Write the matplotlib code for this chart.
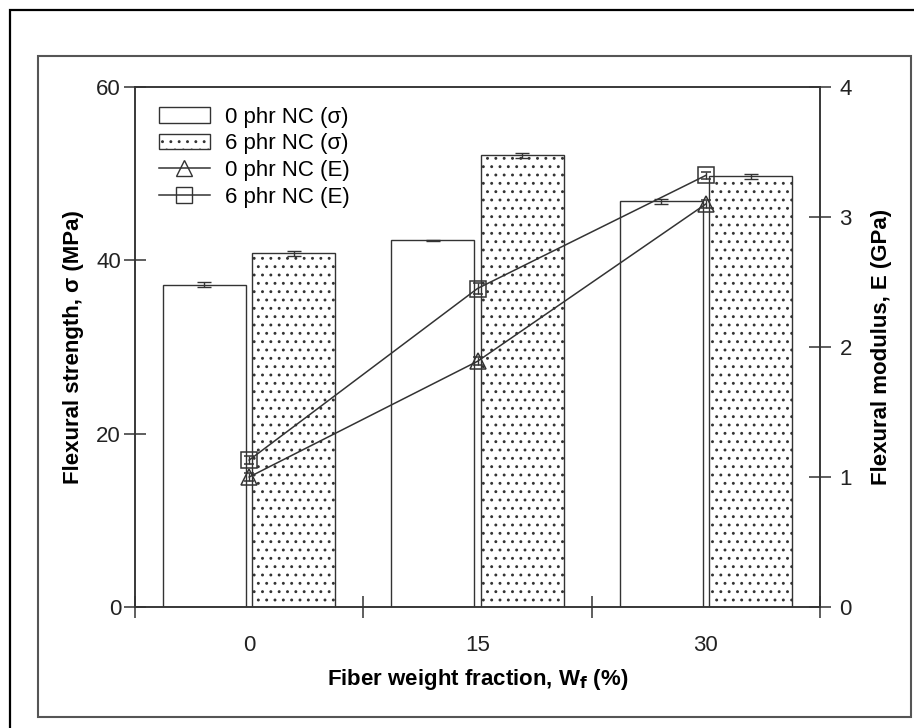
import matplotlib
matplotlib.use('Agg')
import matplotlib.pyplot as plt
import matplotlib.patches as mpatches
from matplotlib.lines import Line2D
import numpy as np

plt.rcParams['font.family'] = ['Liberation Sans', 'DejaVu Sans']
plt.rcParams['hatch.linewidth'] = 0.9
plt.rcParams['hatch.color'] = '#444444'

# data
fractions = ['0', '15', '30']
sigma_0phr = [37.2, 42.3, 46.8]
sigma_0phr_err = [0.3, 0.1, 0.3]
sigma_6phr = [40.8, 52.1, 49.7]
sigma_6phr_err = [0.3, 0.25, 0.3]
modulus_0phr = [1.00, 1.89, 3.10]
modulus_0phr_err = [0.03, 0.03, 0.03]
modulus_6phr = [1.13, 2.45, 3.32]
modulus_6phr_err = [0.03, 0.04, 0.03]

W, H = 914, 728
dark = '#333333'
fs = 16


def fx(x):
    return x / W


def fy(y):
    return 1 - y / H


fig = plt.figure(figsize=(W / 100, H / 100), dpi=100)

# page frames
fig.patches.append(mpatches.Rectangle((fx(10), fy(740)), fx(930) - fx(10), fy(10) - fy(740),
                                      transform=fig.transFigure, fill=False,
                                      edgecolor='black', linewidth=1.6))
fig.patches.append(mpatches.Rectangle((fx(38), fy(717)), fx(911) - fx(38), fy(56) - fy(717),
                                      transform=fig.transFigure, fill=False,
                                      edgecolor='#555555', linewidth=1.5))

ax = fig.add_axes([fx(135), fy(607), fx(820) - fx(135), fy(87) - fy(607)])
ax2 = ax.twinx()

x = np.arange(len(fractions))
width = 0.364
off = 0.196

ax.bar(x - off, sigma_0phr, width, color='white', edgecolor=dark, linewidth=1.0, zorder=2)
ax.bar(x + off, sigma_6phr, width, color='white', edgecolor=dark, linewidth=1.0,
       hatch='..', zorder=2)
ax.errorbar(x - off, sigma_0phr, yerr=sigma_0phr_err, fmt='none', ecolor=dark,
            elinewidth=1.0, capsize=5, capthick=1.0, zorder=3)
ax.errorbar(x + off, sigma_6phr, yerr=sigma_6phr_err, fmt='none', ecolor=dark,
            elinewidth=1.0, capsize=5, capthick=1.0, zorder=3)

ax2.errorbar(x, modulus_0phr, yerr=modulus_0phr_err, color=dark, linewidth=1.1,
             marker='^', markersize=12, markerfacecolor='none', markeredgecolor=dark,
             markeredgewidth=1.1, capsize=3.5, elinewidth=1.0, zorder=4)
ax2.errorbar(x, modulus_6phr, yerr=modulus_6phr_err, color=dark, linewidth=1.1,
             marker='s', markersize=12, markerfacecolor='none', markeredgecolor=dark,
             markeredgewidth=1.1, capsize=3.5, elinewidth=1.0, zorder=4)

ax.set_xlim(-0.5, 2.5)
ax.set_ylim(0, 60)
ax2.set_ylim(0, 4)

ax.set_xticks([-0.5, 0.5, 1.5, 2.5])
ax.set_xticklabels([])
ax.set_xticks(x, minor=True)
ax.set_xticklabels(fractions, minor=True, fontsize=fs, color='#222222')
ax.tick_params(axis='x', which='minor', length=0, pad=20)
ax.tick_params(axis='x', which='major', direction='inout', length=16, width=1.1, color=dark)

ax.set_yticks([0, 20, 40, 60])
ax.tick_params(axis='y', direction='inout', length=16, width=1.1, color=dark,
               labelsize=fs, labelcolor='#222222', pad=2)
ax2.set_yticks([0, 1, 2, 3, 4])
ax2.tick_params(axis='y', direction='inout', length=16, width=1.1, color=dark,
                labelsize=fs, labelcolor='#222222', pad=6)

for a in (ax, ax2):
    for s in a.spines.values():
        s.set_color(dark)
        s.set_linewidth(1.1)

ax.set_ylabel('Flexural strength, σ (MPa)', fontsize=fs, fontweight='bold', labelpad=9)
ax2.set_ylabel('Flexural modulus, E (GPa)', fontsize=fs, fontweight='bold', labelpad=14)
ax.set_xlabel('Fiber weight fraction, W$_\\mathbf{f}$ (%)', fontsize=fs, fontweight='bold',
              labelpad=8)

handles = [
    mpatches.Patch(facecolor='white', edgecolor=dark, linewidth=1.0),
    mpatches.Patch(facecolor='white', edgecolor=dark, linewidth=1.0, hatch='..'),
    Line2D([], [], color=dark, linewidth=1.1, marker='^', markersize=12,
           markerfacecolor='none', markeredgecolor=dark),
    Line2D([], [], color=dark, linewidth=1.1, marker='s', markersize=12,
           markerfacecolor='none', markeredgecolor=dark),
]
labels = ['0 phr NC (σ)', '6 phr NC (σ)', '0 phr NC (E)', '6 phr NC (E)']
leg = ax2.legend(handles, labels, loc='upper left', bbox_to_anchor=(0.012, 0.992),
                 frameon=False, fontsize=fs, handlelength=2.3, handleheight=0.7,
                 labelspacing=0.26, handletextpad=0.7, borderaxespad=0.3)

fig.savefig('out.png', dpi=100)
